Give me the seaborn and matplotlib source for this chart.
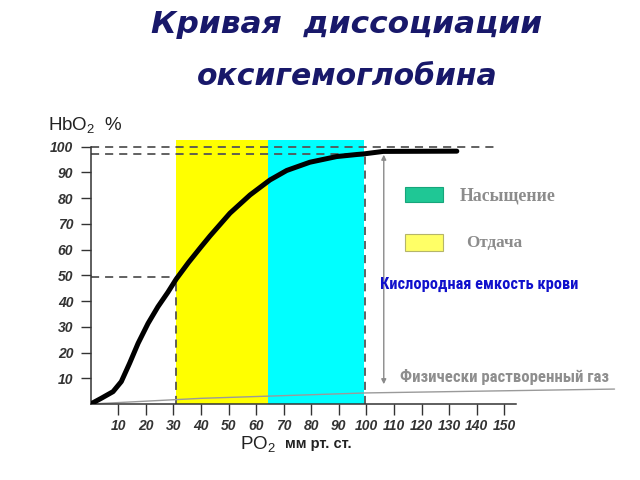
import matplotlib
matplotlib.use("Agg")
import matplotlib.pyplot as plt
import seaborn as sns
import pandas as pd
from matplotlib.patches import Rectangle, FancyArrowPatch
from matplotlib import font_manager

# ---------------- data ----------------
po2 = [0, 3.8, 8.1, 11.1, 14.1, 17.2, 20.8, 24.4, 28.0, 31.0, 35.5, 40.0, 43.3,
       50.5, 57.8, 65.0, 71.1, 79.5, 89.2, 96.5, 98.8, 106.1, 132.8]
hbo2 = [0, 2.2, 4.8, 8.7, 15.8, 23.6, 31.3, 37.8, 43.4, 48.5, 55.0, 61.0, 65.3,
        74.1, 81.2, 87.0, 90.7, 93.9, 96.1, 96.9, 97.1, 98.1, 98.2]
dissolved_po2 = [0, 40, 100, 190]
dissolved_pct = [0, 2.2, 4.3, 5.8]
x_ticks = [10, 20, 30, 40, 50, 60, 70, 80, 90, 100, 110, 120, 130, 140, 150]
y_ticks = [10, 20, 30, 40, 50, 60, 70, 80, 90, 100]
release_zone = [31.0, 64.2]      # Отдача
saturation_zone = [64.2, 99.0]   # Насыщение
zone_top = 102.5
p50 = [30.8, 49.4]
arterial = [99.5, 97.2]
capacity_x = 106.3
capacity_range = [6.6, 97.9]

title_1 = "Кривая  диссоциации"
title_2 = "оксигемоглобина"
lbl_sat = "Насыщение"
lbl_rel = "Отдача"
lbl_cap = "Кислородная емкость крови"
lbl_gas = "Физически растворенный газ"

# ---------------- style ----------------
sns.set_style("white")
plt.rcParams["font.family"] = ["Liberation Sans", "DejaVu Sans"]
plt.rcParams["mathtext.default"] = "regular"

names = {f.name for f in font_manager.fontManager.ttflist}
narrow = next((n for n in ["Liberation Sans Narrow", "DejaVu Sans Condensed",
                           "Roboto Condensed", "Open Sans Condensed"] if n in names),
              "Liberation Sans")

W, H = 640, 480
fig = plt.figure(figsize=(6.4, 4.8), dpi=100)
ax = fig.add_axes([90.7 / W, 76 / H, 425.4 / W, 265.2 / H])
ax.set_xlim(0, 154.3)
ax.set_ylim(0, 103)


def fx(px):
    return px / W


def fy(py):
    return 1 - py / H


# zones
ax.add_patch(Rectangle((release_zone[0], 0), release_zone[1] - release_zone[0], zone_top,
                       facecolor="#ffff00", edgecolor="none", zorder=0))
ax.add_patch(Rectangle((saturation_zone[0], 0), saturation_zone[1] - saturation_zone[0], zone_top,
                       facecolor="#00ffff", edgecolor="none", zorder=0))

# dashed guides
dash = dict(color="#555555", lw=1.3, linestyle=(0, (4.5, 3.3)), zorder=2)
ax.plot([0, 147.7], [100, 100], **dash)
ax.plot([0, arterial[0]], [arterial[1], arterial[1]], **dash)
ax.plot([arterial[0], arterial[0]], [0, arterial[1]], **dash)
ax.plot([0, p50[0]], [p50[1], p50[1]], **dash)
ax.plot([p50[0], p50[0]], [0, p50[1]], **dash)

# physically dissolved gas line
ax.plot(dissolved_po2, dissolved_pct, color="#9a9a9a", lw=1.0, clip_on=False, zorder=2)

# curve
df = pd.DataFrame({"PO2": po2, "HbO2": hbo2})
sns.lineplot(data=df, x="PO2", y="HbO2", ax=ax, color="black", lw=3.6,
             sort=False, estimator=None, zorder=4,
             solid_capstyle="round", solid_joinstyle="round")

# capacity arrow
ax.add_patch(FancyArrowPatch((capacity_x, capacity_range[0]), (capacity_x, capacity_range[1]),
                             arrowstyle="<|-|>", mutation_scale=7, color="#8a8a8a",
                             lw=1.0, zorder=3))

# axes styling
ax.set_xlabel("")
ax.set_ylabel("")
for s in ["top", "right"]:
    ax.spines[s].set_visible(False)
ax.spines["left"].set_bounds(0, 100)
for s in ["left", "bottom"]:
    ax.spines[s].set_color("#333333")
    ax.spines[s].set_linewidth(1.1)
ax.set_xticks(x_ticks)
ax.set_yticks(y_ticks)
ax.set_xticklabels([str(v) for v in x_ticks])
ax.set_yticklabels([str(v) for v in y_ticks])
ax.tick_params(axis="x", direction="out", length=8, width=1.0, color="#333333", pad=3,
               bottom=True)
ax.tick_params(axis="y", direction="out", length=7, width=1.0, color="#333333", pad=5.5,
               left=True)
for t in ax.get_xticklabels() + ax.get_yticklabels():
    t.set_fontsize(10)
    t.set_fontweight("bold")
    t.set_fontstyle("italic")
    t.set_color("#333333")

# axis captions
fig.text(fx(48), fy(130), "HbO$_2$  %", fontsize=13.5, color="#222222", va="baseline")
fig.text(fx(240), fy(449), "PO$_2$", fontsize=13.5, color="#222222", va="baseline")
fig.text(fx(285), fy(448), "мм рт. ст.", fontsize=10.5, fontweight="bold",
         color="#222222", va="baseline")

# title
tfam = ["DejaVu Sans"]
t1 = fig.text(fx(347), fy(33), title_1, fontsize=22, fontweight="bold", fontstyle="italic",
              family=tfam, color="#18186a", ha="center", va="baseline")
t2 = fig.text(fx(347), fy(85), title_2, fontsize=22, fontweight="bold", fontstyle="italic",
              family=tfam, color="#18186a", ha="center", va="baseline")

# legend boxes
fig.add_artist(Rectangle((fx(405), fy(202)), 38 / W, 15 / H, transform=fig.transFigure,
                         facecolor="#1fc795", edgecolor="#17a57b", lw=0.8))
fig.add_artist(Rectangle((fx(405), fy(251)), 38 / W, 17 / H, transform=fig.transFigure,
                         facecolor="#ffff66", edgecolor="#b5b56a", lw=0.8))
ts = fig.text(fx(460), fy(196), lbl_sat, fontsize=11, fontweight="bold",
              family=["Liberation Serif", "DejaVu Serif"], color="#8c8c8c", va="center")
tr = fig.text(fx(466), fy(243), lbl_rel, fontsize=11, fontweight="bold",
              family=["Liberation Serif", "DejaVu Serif"], color="#8c8c8c", va="center")

# annotations
tc = fig.text(fx(380), fy(284), lbl_cap, fontsize=10.5, fontweight="bold",
              family=[narrow, "DejaVu Sans"], color="#1010cc", va="center")
tg = fig.text(fx(400), fy(377), lbl_gas, fontsize=10.5, fontweight="bold",
              family=[narrow, "DejaVu Sans"], color="#8e8e8e", va="center")

# fit text widths to the reference
fig.canvas.draw()
r = fig.canvas.get_renderer()
for txt, target in [(t1, 391), (t2, 300), (ts, 95), (tr, 56), (tc, 198), (tg, 209)]:
    w = txt.get_window_extent(r).width
    txt.set_fontsize(txt.get_fontsize() * target / w)

fig.savefig("out.png", dpi=100)
